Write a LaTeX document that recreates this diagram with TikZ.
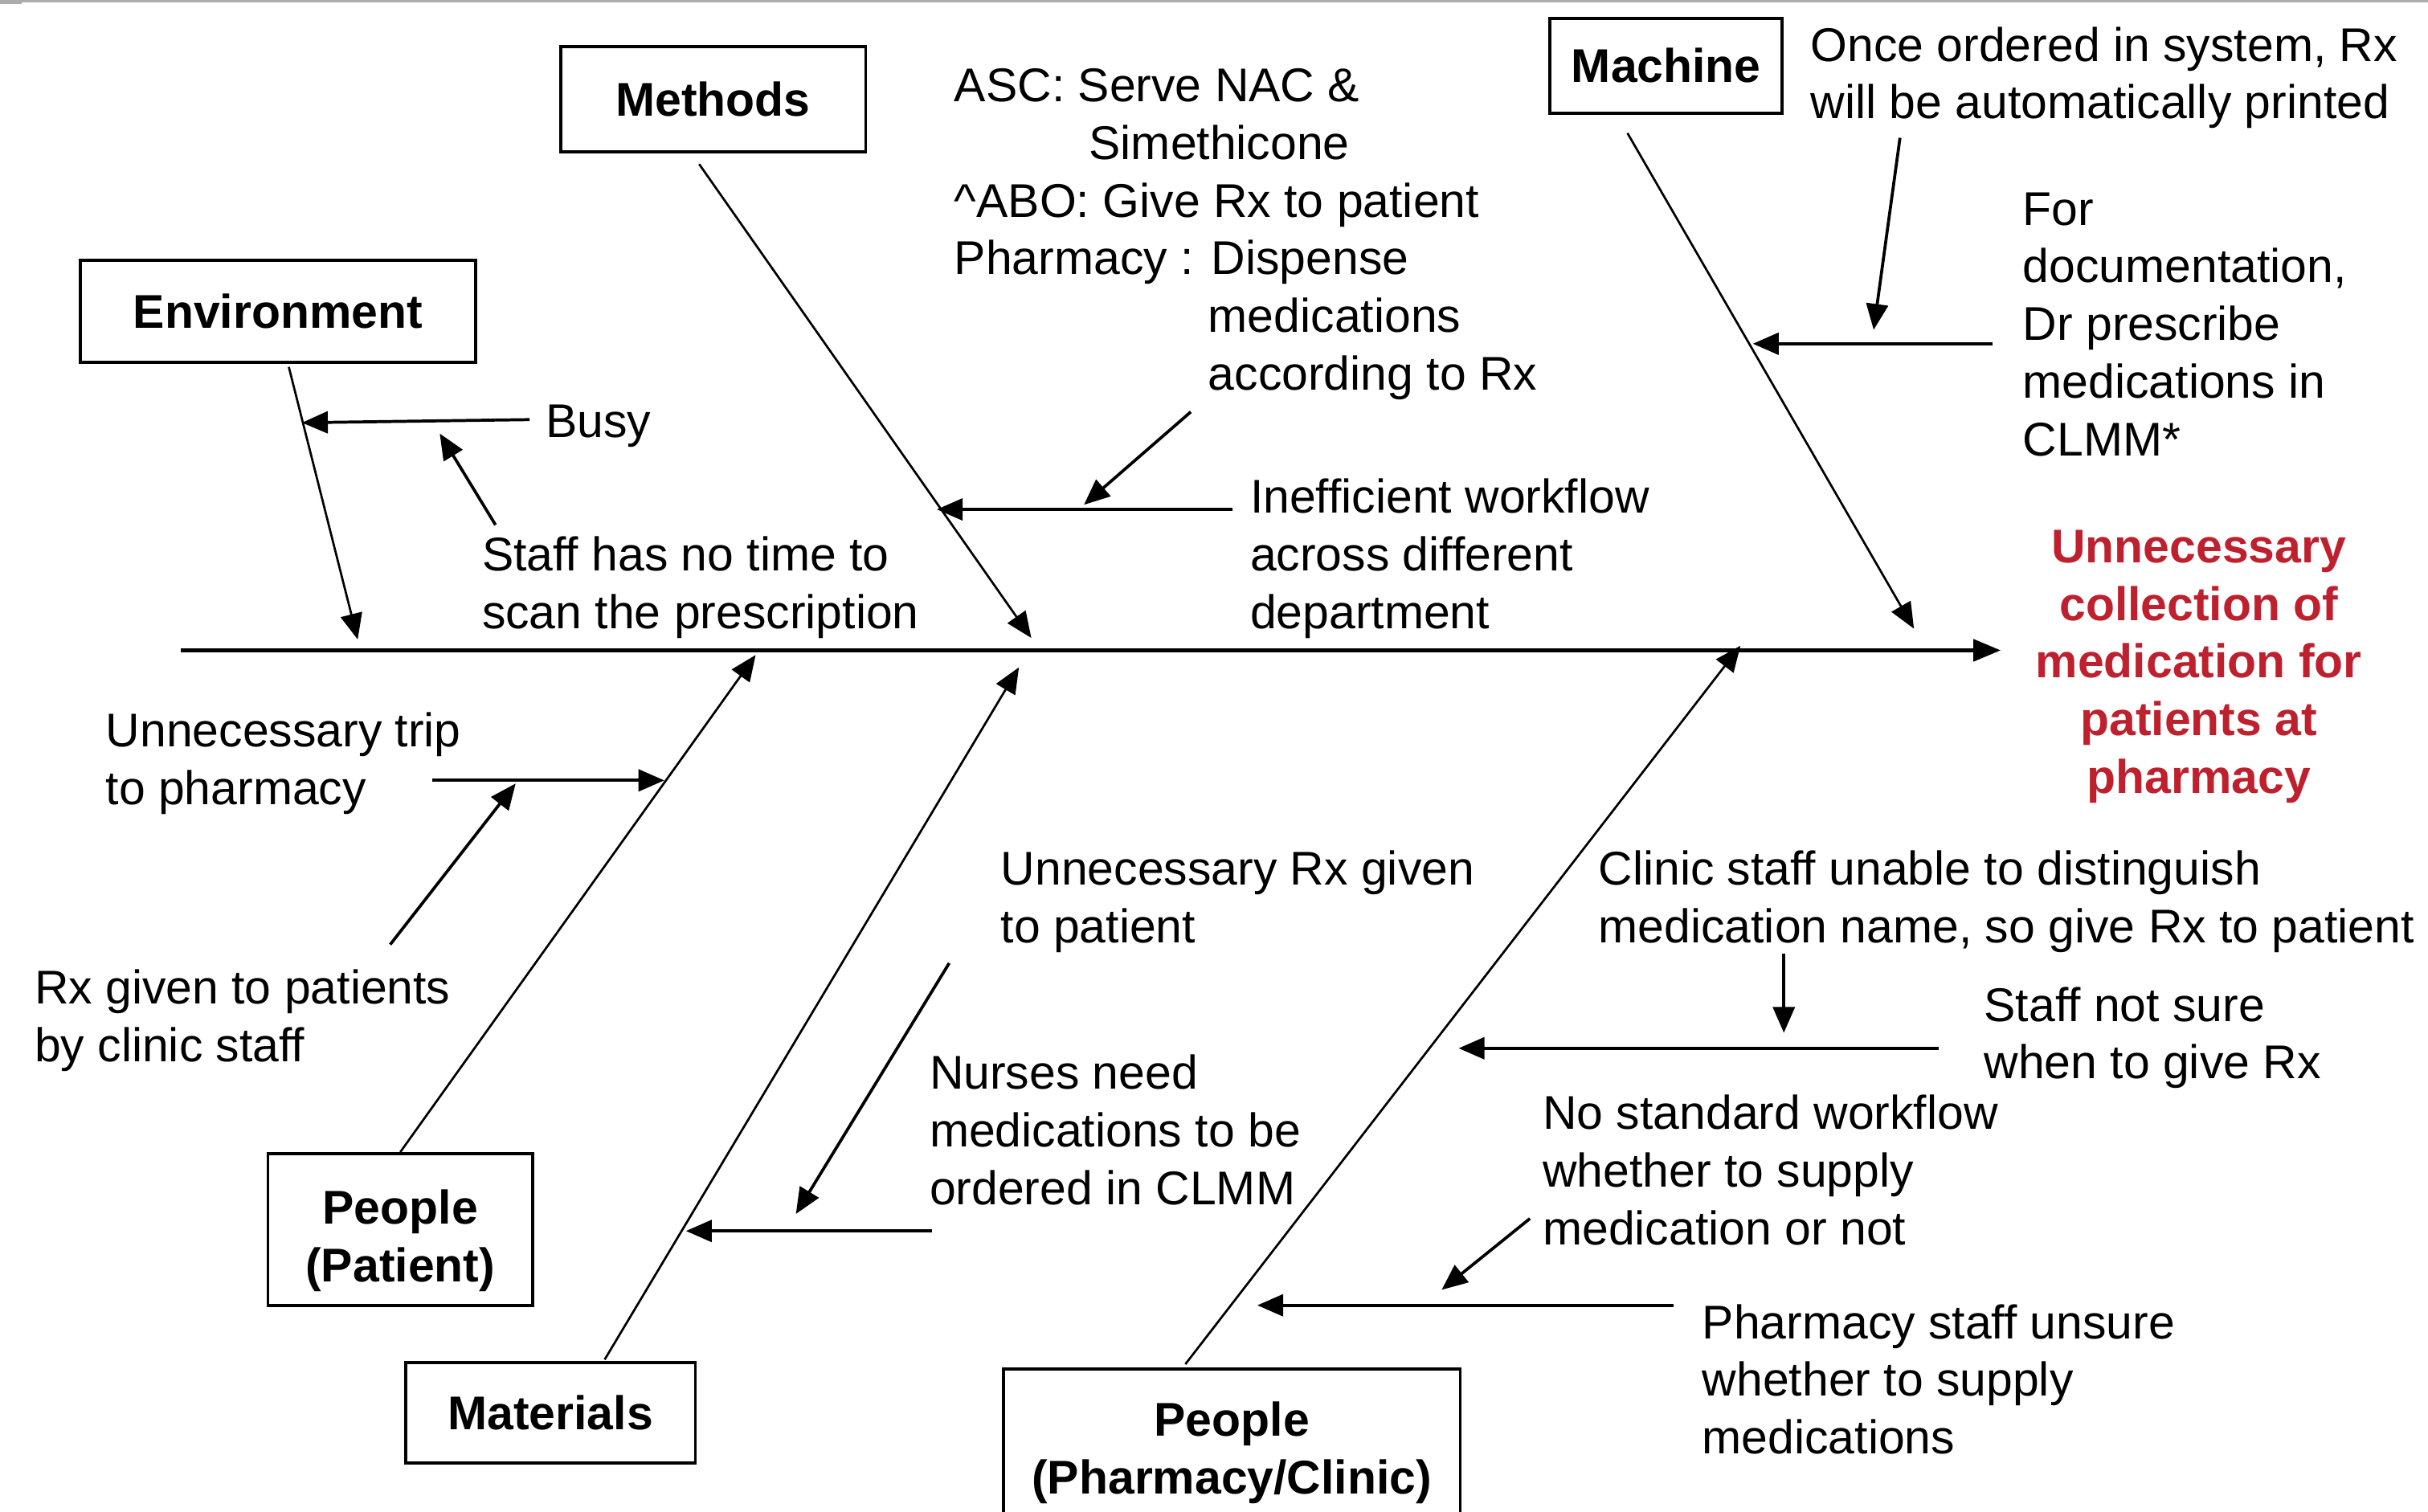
\documentclass[tikz,border=0pt]{standalone}
\usepackage{fontspec}
\setmainfont{Liberation Sans}
\usetikzlibrary{calc,arrows.meta}
\definecolor{effectred}{RGB}{190,32,46}
\newcommand\fishfont{\fontsize{17.4}{21.2}\selectfont}
\tikzset{
  cat/.style 2 args={draw, line width=1.1pt, font=\fishfont\bfseries, align=center,
    inner sep=0pt, minimum width=#1*0.02cm, minimum height=#2*0.02cm},
  txt/.style={anchor=north west, inner sep=0pt, align=left},
  bone/.style={line width=0.8pt, -{Triangle[length=9.5pt,width=8pt]}},
  sub/.style={line width=1.1pt, -{Triangle[length=9.5pt,width=8pt]}}
}
\begin{document}
\begin{tikzpicture}[x=0.02cm, y=-0.02cm, font=\fishfont]
  \useasboundingbox (0,0) rectangle (1568,976);
  \fill[gray!65] (0,0) rectangle (1568,1.6);
  \fill[gray!65] (0,0) rectangle (14,2.8);

  \node[cat={255}{66}] (env) at (179.5,201) {Environment};
  \node[cat={197}{68}] (methods) at (460.5,64) {Methods};
  \node[cat={150}{61}] (machine) at (1076,42.5) {Machine};
  \node[cat={171}{98}] (patient) at (258.5,794) {\rule{0pt}{21pt}People\\(Patient)};
  \node[cat={187}{65}] (materials) at (355.5,912.5) {Materials};
  \node[cat={295}{94}] (pharm) at (795.5,931) {\rule{0pt}{21pt}People\\(Pharmacy/Clinic)};
  \node[anchor=north, inner sep=0pt, align=center, font=\fishfont\bfseries,
    text=effectred] (effect) at (1420,342)
    {Unnecessary\\collection of\\medication for\\patients at\\pharmacy};

  \coordinate (tail) at (117,420); \coordinate (head) at (1292,420);
  \draw[line width=1.3pt, -{Triangle[length=10pt,width=8pt]}] (tail) -- (head);

  \foreach \n/\x/\y in {envtip/231/413, methtip/666/412, machtip/1236/406,
      pattip/488/423, mattip/658/431, phtip/1124/417}
    \coordinate (\n) at (\x,\y);
  \draw[bone] ($(env.south)+(7,2)$) -- (envtip);
  \draw[bone] ($(methods.south)+(-9,7)$) -- (methtip);
  \draw[bone] ($(machine.south)+(-25,12)$) -- (machtip);
  \draw[bone] (patient.north) -- (pattip);
  \draw[bone] ($(materials.north)+(35,-1)$) -- (mattip);
  \draw[bone] ($(pharm.north)+(-30,-2)$) -- (phtip);

  \node[txt] (busy) at (352,261) {Busy};
  \node[txt] (staff) at (311,346) {Staff has no time to\\scan the prescription};
  \node[txt] (ineff) at (807,309) {Inefficient workflow\\across different\\department};
  \node[txt] (asc) at (616,44) {ASC: Serve NAC \&\\\hspace*{1.74cm}Simethicone\\
    \textasciicircum ABO: Give Rx to patient\\Pharmacy : Dispense\\
    \hspace*{3.28cm}medications\\\hspace*{3.28cm}according to Rx};
  \node[txt] (once) at (1169,17) {Once ordered in system, Rx\\will be automatically printed};
  \node[txt] (docu) at (1306,124) {For\\documentation,\\Dr prescribe\\medications in\\CLMM*};
  \node[txt] (trip) at (68,460) {Unnecessary trip\\to pharmacy};
  \node[txt] (rxgiven) at (22,626) {Rx given to patients\\by clinic staff};
  \node[txt] (nurses) at (600,681) {Nurses need\\medications to be\\ordered in CLMM};
  \node[txt] (unrx) at (646,549) {Unnecessary Rx given\\to patient};
  \node[txt] (clinic) at (1032,549) {Clinic staff unable to distinguish\\medication name, so give Rx to patient};
  \node[txt] (notsure) at (1281,637) {Staff not sure\\when to give Rx};
  \node[txt] (nostd) at (996,707) {No standard workflow\\whether to supply\\medication or not};
  \node[txt] (pharmstaff) at (1099,842) {Pharmacy staff unsure\\whether to supply\\medications};

  \foreach \n/\x/\y in {busy0/342/271, busy1/195/273, staff0/320/339, staff1/284/280,
      ineff0/796/329, ineff1/605/329, asc0/769/266, asc1/700/326,
      docu0/1287/222, docu1/1132/222, once0/1227/89, once1/1210/213,
      trip0/279/504, trip1/429/504, rxgiven0/252/610, rxgiven1/333/506,
      nurses0/602/795, nurses1/443/795, unrx0/613/622, unrx1/514/784,
      clinic0/1152/616, clinic1/1152/667, notsure0/1252/677, notsure1/942/677,
      nostd0/988/787, nostd1/931/833, pharmstaff0/1081/843, pharmstaff1/812/843}
    \coordinate (\n) at (\x,\y);
  \foreach \n in {busy,staff,ineff,asc,docu,once,trip,rxgiven,nurses,unrx,
      clinic,notsure,nostd,pharmstaff}
    \draw[sub] (\n0) -- (\n1);
\end{tikzpicture}
\end{document}
